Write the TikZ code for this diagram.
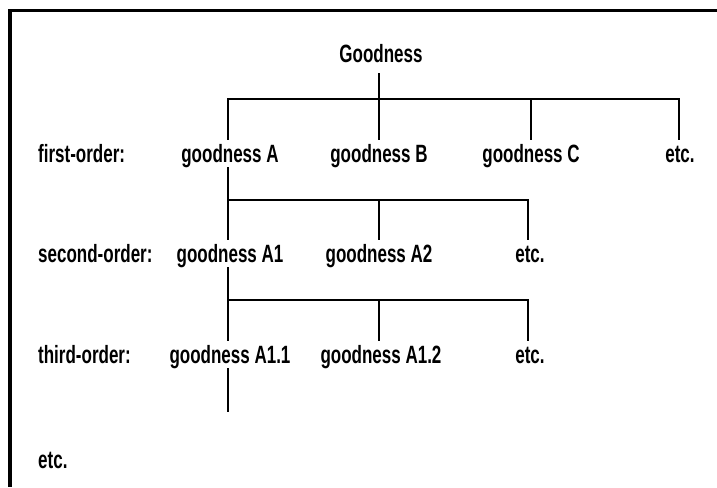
\documentclass[tikz,border=0pt]{standalone}
\usepackage{fontspec}
\setmainfont{Liberation Sans}[FakeStretch=0.68]
\begin{document}
\begin{tikzpicture}[x=1pt,y=-1pt,
  lbl/.style={anchor=base west,inner sep=0pt,font=\fontsize{25}{28}\selectfont\bfseries},
  item/.style={anchor=base,inner xsep=0pt,inner ysep=5pt,text height=17pt,text depth=0pt,font=\fontsize{25}{28}\selectfont\bfseries},
  conn/.style={line width=1.6pt},
  frame/.style={line width=3.3pt}]
\useasboundingbox (0,0) rectangle (717,487);
\fill[white] (0,0) rectangle (717,487);
\coordinate (ftr) at (717,10.5);
\coordinate (ftl) at (10,10.5);
\coordinate (fbl) at (10,487);
\draw[frame] (ftr) -- (ftl) -- (fbl);

% labels
\node[lbl] (l1) at (38,162) {first-order:};
\node[lbl] (l2) at (38,262) {second-order:};
\node[lbl] (l3) at (38,363) {third-order:};
\node[lbl] (l4) at (38,468) {etc.};

% nodes
\node[item] (G) at (381,63) {Goodness};
\node[item] (A) at (230,162) {goodness A};
\node[item] (B) at (379,162) {goodness B};
\node[item] (C) at (531,162) {goodness C};
\node[item] (E1) at (680,162) {etc.};
\node[item] (A1) at (230,262) {goodness A1};
\node[item] (A2) at (379,262) {goodness A2};
\node[item] (E2) at (530,262) {etc.};
\node[item] (A11) at (230,363) {goodness A1.1};
\node[item] (A12) at (381,363) {goodness A1.2};
\node[item] (E3) at (530,363) {etc.};

\coordinate (bar1) at (0,99);
\coordinate (bar2) at (0,200);
\coordinate (bar3) at (0,300);
\coordinate (xA) at (228,0);
\coordinate (xB) at (379,0);
\coordinate (xC) at (531,0);
\coordinate (xE1) at (679,0);
\coordinate (xE2) at (528,0);
\coordinate (tail) at (228,412);

% first level
\draw[conn] ([yshift=-5pt]G.south -| xB) -- (B.north -| xB);
\draw[conn] (A.north -| xA) -- (xA |- bar1) -- (xE1 |- bar1) -- (E1.north -| xE1);
\draw[conn] (C.north -| xC) -- (xC |- bar1);
% second level
\draw[conn] (A.south -| xA) -- (A1.north -| xA);
\draw[conn] (xA |- bar2) -- (xE2 |- bar2) -- (E2.north -| xE2);
\draw[conn] (A2.north -| xB) -- (xB |- bar2);
% third level
\draw[conn] (A1.south -| xA) -- (A11.north -| xA);
\draw[conn] (xA |- bar3) -- (xE2 |- bar3) -- (E3.north -| xE2);
\draw[conn] (A12.north -| xB) -- (xB |- bar3);
% tail
\draw[conn] (A11.south -| xA) -- (tail);
\end{tikzpicture}
\end{document}
